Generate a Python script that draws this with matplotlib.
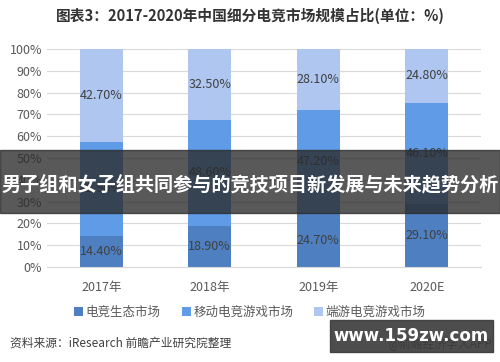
import matplotlib.pyplot as plt
from matplotlib.patches import Rectangle

plt.rcParams['font.family'] = ['Noto Sans CJK SC', 'DejaVu Sans']

years = ["2017年", "2018年", "2019年", "2020E"]
series_names = ["电竞生态市场", "移动电竞游戏市场", "端游电竞游戏市场"]
eco = [14.4, 18.9, 24.7, 29.1]
mobile = [42.9, 48.6, 47.2, 46.1]
client = [42.7, 32.5, 28.1, 24.8]
colors = ["#4E7FC0", "#5F9BE6", "#AEC6F0"]

fig = plt.figure(figsize=(5, 3.62), dpi=100)
ax = fig.add_axes([0.094, 0.262, 0.868, 0.603])

x = range(len(years))
bottom = [0, 0, 0, 0]
for vals, name, c in zip([eco, mobile, client], series_names, colors):
    ax.bar(x, vals, width=0.4, bottom=bottom, color=c, label=name, zorder=2)
    for i, v in enumerate(vals):
        ax.text(i, bottom[i] + v / 2, f"{v:.2f}%", ha='center', va='center',
                fontsize=9, color='#404040', zorder=3)
    bottom = [b + v for b, v in zip(bottom, vals)]

ax.set_xlim(-0.5, 3.5)
ax.set_ylim(0, 100)
ax.set_yticks(range(0, 101, 10))
ax.set_yticklabels([f"{t}%" for t in range(0, 101, 10)])
ax.set_xticks(list(x))
ax.set_xticklabels(years)
ax.tick_params(length=0, labelsize=9, colors='#595959')
ax.tick_params(axis='x', pad=10)
ax.grid(axis='y', color='#D9D9D9', linewidth=0.8, zorder=0)
for s in ['top', 'right', 'left']:
    ax.spines[s].set_visible(False)
ax.spines['bottom'].set_color('#D9D9D9')

fig.text(0.5, 0.955, "图表3：2017-2020年中国细分电竞市场规模占比(单位：%)",
         ha='center', va='center', fontsize=10.6, fontweight='bold', color='#333333')

fig.legend(loc='center', bbox_to_anchor=(0.5, 0.138), ncol=3, frameon=False,
           fontsize=9, handlelength=0.7, handleheight=0.7, handletextpad=0.2,
           columnspacing=1.7, labelcolor='#595959')

fig.text(0.02, 0.052, "资料来源：iResearch 前瞻产业研究院整理", ha='left',
         va='center', fontsize=8.5, color='#404040')
fig.text(0.985, 0.048, "@前瞻经济学人APP", ha='right', va='center',
         fontsize=8.5, color='#404040')

# overlay banner
fig.patches.append(Rectangle((0.0, 1 - 213 / 362), 1.0, 63 / 362,
                             transform=fig.transFigure, color='#2a2a2a',
                             alpha=0.78, zorder=10))
fig.text(0.5, 1 - 185 / 362, "男子组和女子组共同参与的竞技项目新发展与未来趋势分析",
         ha='center', va='center', fontsize=13.8, fontweight='bold',
         color='white', zorder=11)

# site watermark box
fig.patches.append(Rectangle((330 / 500, 1 - 352 / 362), 163 / 500, 32 / 362,
                             transform=fig.transFigure, color='#3a3a3a',
                             alpha=0.9, zorder=10))
fig.text(411 / 500, 1 - 336 / 362, "www.159zw.com", ha='center', va='center',
         fontsize=12, fontweight='bold', color='white', zorder=11,
         family='DejaVu Sans')

fig.savefig("out.png", dpi=100)
